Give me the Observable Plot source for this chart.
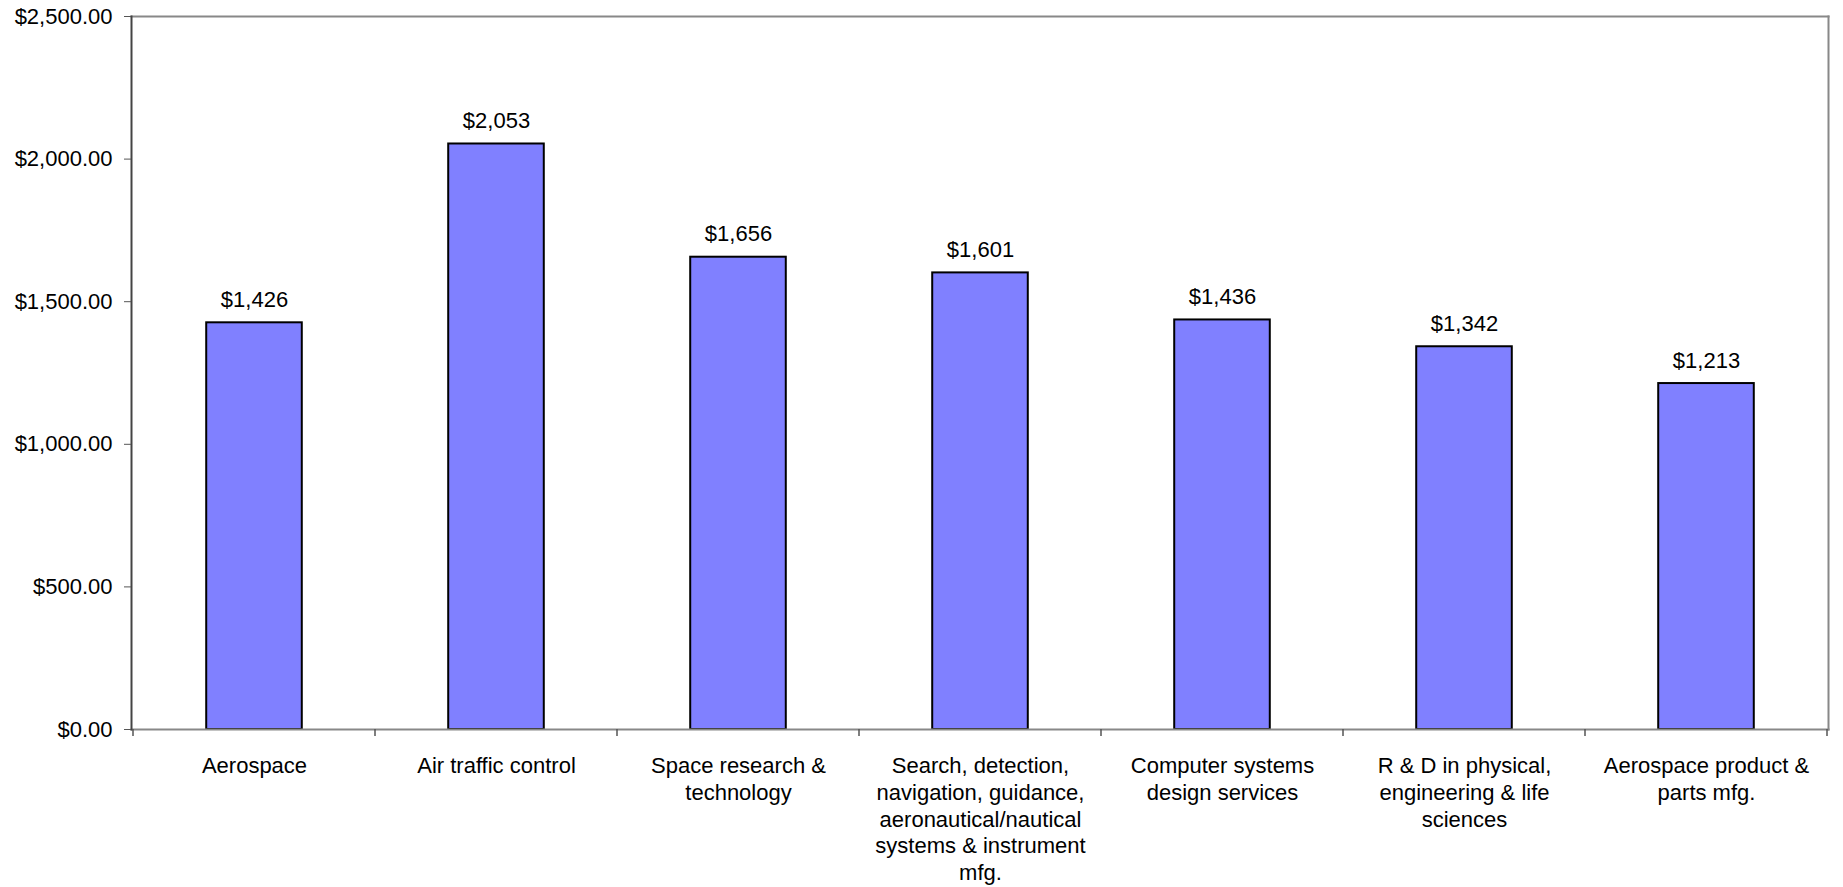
<!DOCTYPE html>
<html>
<head>
<meta charset="utf-8">
<script src="https://cdn.jsdelivr.net/npm/d3@7"></script>
<script src="https://cdn.jsdelivr.net/npm/@observablehq/plot@0.6"></script>
<style>
  html, body { margin: 0; padding: 0; background: #fff; overflow: hidden; }
  svg { display: block; }
</style>
</head>
<body>
<div id="chart"></div>
<script>
const categories = [
  "Aerospace",
  "Air traffic control",
  "Space research & technology",
  "Search, detection, navigation, guidance, aeronautical/nautical systems & instrument mfg.",
  "Computer systems design services",
  "R & D in physical, engineering & life sciences",
  "Aerospace product & parts mfg."
];
const values = [1426, 2053, 1656, 1601, 1436, 1342, 1213];
const tickLabels = [
  "Aerospace",
  "Air traffic control",
  "Space research &\ntechnology",
  "Search, detection,\nnavigation, guidance,\naeronautical/nautical\nsystems & instrument\nmfg.",
  "Computer systems\ndesign services",
  "R & D in physical,\nengineering & life\nsciences",
  "Aerospace product &\nparts mfg."
];
const yTicks = [0, 500, 1000, 1500, 2000, 2500];

const data = categories.map((c, i) => ({category: c, value: values[i]}));

const W = 1843, H = 887;
const mL = 131, mR = 15, mT = 16, mB = 158;
const step = (W - mL - mR) / categories.length;
const barInset = step * 0.302;

function boundaryTicks(index, scales, vals, dims) {
  const x = scales.x, y = scales.y;
  const bw = x.bandwidth ? x.bandwidth() : step;
  const y0 = y(0);
  const xs = categories.map(c => x(c)).concat([x(categories[categories.length - 1]) + bw]);
  const g = d3.create("svg:g").attr("stroke", "#555").attr("stroke-width", 1.5);
  for (const xv of xs) {
    g.append("line").attr("x1", xv).attr("x2", xv).attr("y1", y0).attr("y2", y0 + 7);
  }
  return g.node();
}

const chart = Plot.plot({
  width: W,
  height: H,
  marginLeft: mL,
  marginRight: mR,
  marginTop: mT,
  marginBottom: mB,
  style: {fontFamily: "'Liberation Sans', Arial, sans-serif", fontSize: "22px", color: "#000", background: "#fff"},
  x: {domain: categories, padding: 0, label: null, axis: null},
  y: {domain: [0, 2500], label: null, axis: null},
  marks: [
    Plot.barY(data, {
      x: "category", y: "value",
      fill: "#8080FF", stroke: "#000", strokeWidth: 2,
      insetLeft: barInset, insetRight: barInset
    }),
    Plot.frame({anchor: "top", stroke: "#888", strokeWidth: 2}),
    Plot.frame({anchor: "right", stroke: "#888", strokeWidth: 2}),
    Plot.frame({anchor: "bottom", stroke: "#888", strokeWidth: 2}),
    Plot.frame({anchor: "left", stroke: "#444", strokeWidth: 2}),
    Plot.axisY({
      ticks: yTicks,
      tickFormat: d => "$" + d3.format(",.2f")(d),
      tickSize: 7, tickPadding: 12,
      fontSize: 22, stroke: "#555", fill: "#000",
      label: null
    }),
    Plot.axisX({
      tickSize: 0, tickPadding: 25,
      tickFormat: (d, i) => tickLabels[categories.indexOf(d)],
      fontSize: 22, lineHeight: 1.21, fill: "#000",
      label: null
    }),
    boundaryTicks,
    Plot.text(data, {
      x: "category", y: "value",
      text: d => "$" + d3.format(",")(d.value),
      dy: -23, fontSize: 22, fill: "#000"
    })
  ]
});

document.getElementById("chart").appendChild(chart);
</script>
</body>
</html>
